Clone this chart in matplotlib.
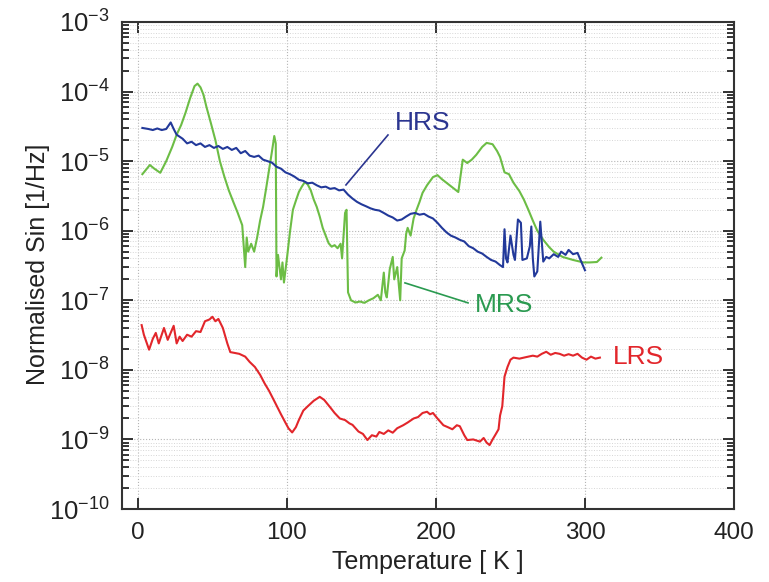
import numpy as np
import matplotlib
matplotlib.use('Agg')
import matplotlib.pyplot as plt
from matplotlib.ticker import LogLocator, NullFormatter

plt.rcParams['font.family'] = ['Liberation Sans', 'DejaVu Sans']

# HRS (blue)
hrs_T = [3, 7, 10, 13, 16, 19, 22, 24, 26, 30, 33, 36, 39, 42, 45, 48, 51, 54, 57, 60,
         63, 66, 69, 72, 75, 78, 81, 84, 87, 90, 93, 96, 99, 102, 105, 108, 111, 114, 117, 120,
         123, 126, 129, 132, 135, 138, 141, 144, 147, 150, 153, 156, 159, 162, 165, 168, 171, 174, 177, 180,
         183, 186, 189, 192, 195, 198, 201, 204, 207, 210, 213, 216, 219, 222, 225, 228, 231, 234, 237, 240,
         243, 245, 246, 247, 248, 250, 252, 253, 255, 257, 258, 261, 263, 264, 265, 266, 268, 270, 272, 274,
         276, 279, 282, 284, 287, 289, 292, 295, 297, 300]
hrs_S = [3.0e-5, 2.9e-5, 2.8e-5, 2.95e-5, 2.8e-5, 2.9e-5, 3.6e-5, 2.9e-5, 2.4e-5, 2.1e-5,
         1.8e-5, 1.9e-5, 1.7e-5, 1.8e-5, 1.6e-5, 1.7e-5, 1.55e-5, 1.65e-5, 1.5e-5, 1.6e-5,
         1.45e-5, 1.55e-5, 1.3e-5, 1.4e-5, 1.2e-5, 1.15e-5, 1.2e-5, 1.05e-5, 1.0e-5, 9.5e-6,
         8.3e-6, 7.8e-6, 6.9e-6, 6.5e-6, 6.0e-6, 5.4e-6, 5.2e-6, 4.8e-6, 4.9e-6, 4.5e-6,
         4.2e-6, 4.3e-6, 4.0e-6, 4.1e-6, 3.8e-6, 3.9e-6, 3.3e-6, 2.9e-6, 2.6e-6, 2.4e-6,
         2.25e-6, 2.1e-6, 2.0e-6, 1.95e-6, 1.8e-6, 1.65e-6, 1.55e-6, 1.4e-6, 1.45e-6, 1.6e-6,
         1.75e-6, 1.8e-6, 1.7e-6, 1.75e-6, 1.6e-6, 1.5e-6, 1.3e-6, 1.1e-6, 9.5e-7, 8.5e-7,
         8.0e-7, 7.4e-7, 7.0e-7, 6.0e-7, 5.6e-7, 5.0e-7, 4.7e-7, 4.2e-7, 3.8e-7, 3.6e-7,
         3.2e-7, 3.0e-7, 1.05e-6, 4.0e-7, 3.5e-7, 8.5e-7, 4.5e-7, 3.8e-7, 1.45e-6, 1.3e-6,
         3.8e-7, 4.0e-7, 6.0e-7, 1.15e-6, 4.0e-7, 2.2e-7, 2.6e-7, 1.35e-6, 3.6e-7, 4.2e-7,
         4.0e-7, 4.6e-7, 4.2e-7, 5.0e-7, 4.5e-7, 5.3e-7, 4.6e-7, 4.8e-7, 3.8e-7, 2.7e-7]

# MRS (green)
mrs_T = [3, 8, 11, 15, 19, 23, 26, 29, 32, 35, 38, 40, 42, 44, 46, 49, 52, 55, 58, 61,
         64, 67, 70, 71, 72, 73, 74, 76, 78, 80, 82, 84, 86, 88, 90, 91.5, 92.5, 93, 94, 95,
         96, 97, 98, 100, 102, 104, 106, 108, 110, 112, 114, 116, 118, 120, 122, 124, 126, 128, 130, 132,
         134, 136, 137, 139, 140, 141, 143, 146, 149, 152, 155, 158, 161, 163, 165, 166, 167, 169, 171, 172,
         174, 176, 177, 179, 180, 181, 183, 185, 187, 189, 191, 194, 198, 201, 204, 207, 211, 215, 218, 221,
         224, 227, 231, 234, 238, 241, 243, 246, 249, 252, 256, 259, 262, 265, 268, 272, 276, 279, 285, 292,
         299, 303, 308, 311]
mrs_S = [6.5e-6, 8.8e-6, 7.8e-6, 6.8e-6, 1.0e-5, 1.6e-5, 2.4e-5, 3.3e-5, 5.0e-5, 8.0e-5,
         1.2e-4, 1.3e-4, 1.15e-4, 9.0e-5, 6.0e-5, 3.5e-5, 2.0e-5, 1.0e-5, 6.0e-6, 3.8e-6,
         2.6e-6, 1.8e-6, 1.2e-6, 6.0e-7, 3.0e-7, 8.0e-7, 5.0e-7, 6.5e-7, 5.0e-7, 8.0e-7,
         1.4e-6, 2.2e-6, 4.0e-6, 7.5e-6, 1.4e-5, 2.3e-5, 1.8e-5, 2.2e-7, 4.5e-7, 3.0e-7,
         2.0e-7, 3.5e-7, 1.8e-7, 4.0e-7, 9.5e-7, 2.0e-6, 2.7e-6, 3.6e-6, 4.3e-6, 5.0e-6,
         4.6e-6, 3.8e-6, 2.8e-6, 2.2e-6, 1.6e-6, 1.1e-6, 8.5e-7, 6.6e-7, 5.9e-7, 6.2e-7,
         5.6e-7, 6.5e-7, 4.0e-7, 1.8e-6, 2.0e-6, 1.3e-7, 1.0e-7, 9.3e-8, 9.6e-8, 9.2e-8,
         1.0e-7, 1.07e-7, 1.2e-7, 1.0e-7, 2.5e-7, 1.3e-7, 1.1e-7, 2.8e-7, 4.2e-7, 2.0e-7,
         3.0e-7, 1.0e-7, 4.0e-7, 5.2e-7, 9.0e-7, 1.1e-6, 8.5e-7, 1.5e-6, 2.0e-6, 2.6e-6,
         3.5e-6, 4.5e-6, 5.9e-6, 6.3e-6, 5.5e-6, 4.9e-6, 4.2e-6, 3.6e-6, 1.05e-5, 9.4e-6,
         1.05e-5, 1.23e-5, 1.6e-5, 1.83e-5, 1.75e-5, 1.4e-5, 1.15e-5, 6.9e-6, 6.5e-6, 4.9e-6,
         3.7e-6, 2.8e-6, 2.0e-6, 1.4e-6, 1.0e-6, 7.4e-7, 5.8e-7, 5.0e-7, 4.2e-7, 3.8e-7,
         3.5e-7, 3.5e-7, 3.55e-7, 4.1e-7]

# LRS (red)
lrs_T = [2.5, 4, 7.5, 10, 12, 14, 17.5, 20, 24, 26, 28, 30, 33, 36, 39, 42, 45, 48, 50, 52,
         54, 57, 60, 62, 65, 68, 72, 75, 78.5, 82, 85, 88, 92, 96, 99, 101, 103.5, 106, 108, 111,
         114, 118, 122, 125, 129, 132, 135.5, 139, 142, 144, 148, 151, 154, 157, 160, 162, 165, 168, 171, 174,
         178, 181, 185, 188, 191, 194, 196, 198, 201, 205, 208, 211, 214, 216, 219, 221, 225, 229.5, 232, 234,
         236, 238, 240, 242, 243, 244.5, 246, 248, 250, 252, 256, 259, 262, 265, 268, 271, 274, 277, 280, 283,
         286, 289, 292, 295, 298, 301, 304, 307, 310]
lrs_S = [4.4e-8, 3.2e-8, 1.95e-8, 2.8e-8, 3.4e-8, 2.4e-8, 4.0e-8, 2.7e-8, 4.3e-8, 2.4e-8,
         3.0e-8, 2.6e-8, 3.2e-8, 3.0e-8, 3.6e-8, 3.5e-8, 5.0e-8, 5.3e-8, 5.8e-8, 5.0e-8,
         5.4e-8, 4.0e-8, 2.4e-8, 1.8e-8, 1.75e-8, 1.7e-8, 1.55e-8, 1.3e-8, 1.1e-8, 8.5e-9,
         6.4e-9, 5.0e-9, 3.4e-9, 2.3e-9, 1.74e-9, 1.45e-9, 1.26e-9, 1.5e-9, 1.9e-9, 2.6e-9,
         3.0e-9, 3.6e-9, 4.1e-9, 3.7e-9, 2.9e-9, 2.4e-9, 2.0e-9, 1.9e-9, 1.7e-9, 1.62e-9,
         1.3e-9, 1.2e-9, 9.8e-10, 1.15e-9, 1.1e-9, 1.28e-9, 1.2e-9, 1.35e-9, 1.25e-9, 1.45e-9,
         1.6e-9, 1.75e-9, 2.0e-9, 2.1e-9, 2.4e-9, 2.5e-9, 2.3e-9, 2.4e-9, 2.0e-9, 1.6e-9,
         1.5e-9, 1.4e-9, 1.6e-9, 1.55e-9, 1.15e-9, 9.8e-10, 1.0e-9, 9.3e-10, 1.05e-9, 9.0e-10,
         8.3e-10, 1.0e-9, 1.18e-9, 1.4e-9, 2.2e-9, 3.0e-9, 8.0e-9, 1.1e-8, 1.4e-8, 1.5e-8,
         1.45e-8, 1.5e-8, 1.55e-8, 1.6e-8, 1.55e-8, 1.7e-8, 1.82e-8, 1.65e-8, 1.75e-8, 1.7e-8,
         1.6e-8, 1.68e-8, 1.6e-8, 1.7e-8, 1.5e-8, 1.4e-8, 1.55e-8, 1.45e-8, 1.5e-8]

x_ticks = [0, 100, 200, 300, 400]
y_ticks = [1e-10, 1e-9, 1e-8, 1e-7, 1e-6, 1e-5, 1e-4, 1e-3]

blue = '#22399a'
green = '#6cbd45'
red = '#e2262b'

fig = plt.figure(figsize=(7.69, 5.82), dpi=100)
ax = fig.add_axes([0.1586, 0.1254, 0.7959, 0.8368])

ax.plot(mrs_T, mrs_S, color=green, lw=1.5)
ax.plot(hrs_T, hrs_S, color=blue, lw=1.5)
ax.plot(lrs_T, lrs_S, color=red, lw=1.5)

ax.set_yscale('log')
ax.set_xlim(-10.7, 400)
ax.set_ylim(1e-10, 1e-3)
ax.set_xticks(x_ticks)
ax.set_yticks(y_ticks)
ax.yaxis.set_minor_locator(LogLocator(base=10, subs=np.arange(2, 10), numticks=100))
ax.yaxis.set_minor_formatter(NullFormatter())

ax.grid(True, which='major', axis='x', ls=':', color='#b5b5b5', lw=0.8)
ax.grid(True, which='major', axis='y', ls=':', color='#b5b5b5', lw=0.8)
ax.grid(True, which='minor', axis='y', ls=':', color='#d6d6d6', lw=0.7)

ax.tick_params(which='major', direction='in', length=8, width=1.3, top=True, right=True,
               pad=9, colors='#222222')
ax.tick_params(axis='x', labelsize=17.5)
ax.tick_params(axis='y', labelsize=18.5)
ax.tick_params(which='minor', direction='in', length=5, width=1.1, top=True, right=True)
for s in ax.spines.values():
    s.set_linewidth(1.5)
    s.set_color('#333333')

ax.set_xlabel('Temperature [ K ]', fontsize=18, color='#222222')
ax.xaxis.set_label_coords(0.5, -0.085)
ax.set_ylabel('Normalised Sin [1/Hz]', fontsize=18, color='#222222')
ax.yaxis.set_label_coords(-0.118, 0.502)

# annotations
ax.plot([139.6, 167.8], [10**-5.342, 10**-4.624], color='#2b3590', lw=1.2)
ax.text(172.5, 10**-4.451, 'HRS', color='#2b3590', fontsize=19, va='center', ha='left')
ax.plot([179.2, 221.5], [10**-6.75, 10**-7.037], color='#2a9a50', lw=1.2)
ax.text(226, 10**-7.066, 'MRS', color='#2a9a50', fontsize=19, va='center', ha='left')
ax.text(319, 10**-7.813, 'LRS', color=red, fontsize=19, va='center', ha='left')

fig.savefig('out.png', dpi=100)
